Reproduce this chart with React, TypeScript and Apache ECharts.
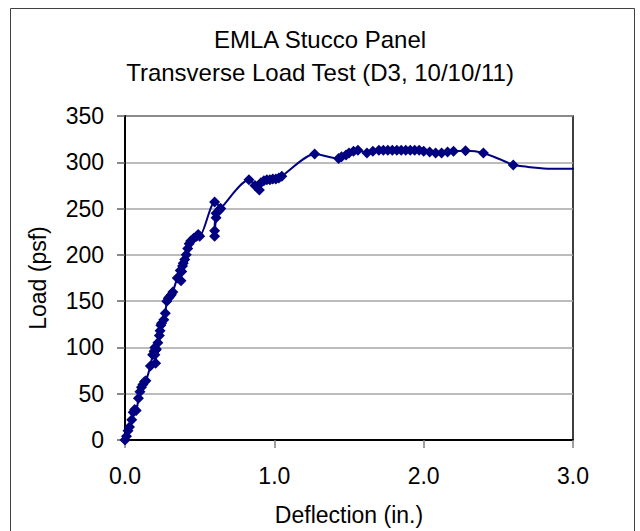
import React, { useEffect, useRef } from "react";
import * as echarts from "echarts";

const titleLines = ["EMLA Stucco Panel", "Transverse Load Test (D3, 10/10/11)"];
const xAxisName = "Deflection (in.)";
const yAxisName = "Load (psf)";

// Measured points (with markers), in test order
const deflection = [
  0.0, 0.01, 0.02, 0.03, 0.045, 0.055, 0.065, 0.075, 0.09, 0.1, 0.11, 0.12, 0.13, 0.14,
  0.17, 0.185, 0.195, 0.2, 0.205, 0.2, 0.205, 0.21, 0.22, 0.23, 0.235, 0.24, 0.245,
  0.26, 0.27, 0.28, 0.29, 0.3, 0.31, 0.32, 0.35, 0.37, 0.375, 0.38, 0.385, 0.39, 0.4,
  0.41, 0.42, 0.43, 0.44, 0.46, 0.48, 0.49, 0.5, 0.6, 0.64, 0.61, 0.6, 0.6, 0.61, 0.63,
  0.64, 0.83, 0.87, 0.9, 0.91, 0.93, 0.95, 0.97, 0.99, 1.01, 1.03, 1.05, 1.27, 1.43,
  1.45, 1.48, 1.5, 1.53, 1.56, 1.62, 1.66, 1.7, 1.73, 1.76, 1.79, 1.82, 1.85, 1.88,
  1.91, 1.94, 1.97, 2.0, 2.04, 2.08, 2.12, 2.16, 2.2, 2.28, 2.4, 2.6,
];
const load = [
  0, 4, 10, 14, 22, 30, 33, 32, 45, 52, 57, 60, 63, 64,
  80, 92, 96, 100, 97, 92, 83, 98, 105, 113, 118, 124, 126,
  130, 137, 150, 153, 155, 157, 160, 175, 183, 172, 182, 188, 191, 195,
  200, 207, 212, 215, 218, 220, 222, 220, 257, 250, 245, 226, 220, 240, 248,
  250, 281, 275, 270, 278, 280, 281, 281, 282, 282, 283, 285, 309, 304,
  306, 308, 310, 312, 313, 310, 312, 313, 313, 313, 313, 313, 313, 313,
  313, 313, 313, 312, 311, 310, 310, 311, 312, 312.5, 310, 297,
];

// Final part of the curve, drawn without markers
const tailDeflection = [2.6, 2.7, 2.85, 3.04];
const tailLoad = [297, 295, 293, 293];

const yTicks = { min: 0, max: 350, interval: 50 };
const xTicks = { min: 0, max: 3, interval: 1 };

const FONT = "Liberation Sans, Arial, sans-serif";

export default function App() {
  const ref = useRef<HTMLDivElement>(null);

  useEffect(() => {
    if (!ref.current) return;
    const chart = echarts.init(ref.current, undefined, { renderer: "svg" });
    const mainData = deflection.map((d, i) => [d, load[i]]);
    const tailData = tailDeflection.map((d, i) => [d, tailLoad[i]]);

    chart.setOption({
      animation: false,
      backgroundColor: "#ffffff",
      textStyle: { fontFamily: FONT },
      title: {
        text: titleLines.join("\n"),
        left: "center",
        top: 23,
        padding: 0,
        textStyle: {
          fontFamily: FONT,
          fontSize: 24,
          fontWeight: "normal",
          color: "#000",
          lineHeight: 33,
        },
      },
      graphic: [
        {
          type: "rect",
          shape: { x: 10.5, y: 8.5, width: 624, height: 540 },
          style: { fill: "none", stroke: "#404040", lineWidth: 1 },
          silent: true,
          z: -10,
        },
      ],
      grid: {
        left: 125,
        right: 67,
        top: 116,
        bottom: 91,
        show: true,
        borderColor: "#000",
        borderWidth: 1.5,
        backgroundColor: "transparent",
      },
      xAxis: {
        type: "value",
        min: xTicks.min,
        max: xTicks.max,
        interval: xTicks.interval,
        name: xAxisName,
        nameLocation: "middle",
        nameGap: 63,
        nameTextStyle: { fontFamily: FONT, fontSize: 23, color: "#000" },
        axisLine: { show: true, onZero: false, lineStyle: { color: "#000", width: 2 } },
        axisTick: { show: true, inside: false, length: 8, lineStyle: { color: "#808080", width: 1.5 } },
        axisLabel: {
          fontFamily: FONT,
          fontSize: 23,
          color: "#000",
          margin: 24,
          formatter: (v: number) => v.toFixed(1),
        },
        splitLine: { show: false },
      },
      yAxis: {
        type: "value",
        min: yTicks.min,
        max: yTicks.max,
        interval: yTicks.interval,
        name: yAxisName,
        nameLocation: "middle",
        nameGap: 76,
        nameTextStyle: { fontFamily: FONT, fontSize: 23, color: "#000" },
        axisLine: { show: true, lineStyle: { color: "#000", width: 2 } },
        axisTick: { show: true, inside: false, length: 8, lineStyle: { color: "#606060", width: 1.5 } },
        axisLabel: { fontFamily: FONT, fontSize: 23, color: "#000", margin: 21 },
        splitLine: { show: true, lineStyle: { color: "#a6a6a6", width: 1.5 } },
      },
      series: [
        {
          type: "line",
          data: mainData,
          smooth: 0.25,
          symbol: "diamond",
          symbolSize: 11,
          lineStyle: { color: "#000080", width: 2 },
          itemStyle: { color: "#000080" },
          clip: false,
          z: 3,
        },
        {
          type: "line",
          data: tailData,
          smooth: 0.3,
          symbol: "none",
          lineStyle: { color: "#000080", width: 2 },
          clip: false,
          z: 2,
        },
      ],
    });

    return () => chart.dispose();
  }, []);

  return (
    <div
      ref={ref}
      style={{ position: "absolute", left: 0, top: 0, width: 640, height: 531 }}
    />
  );
}
